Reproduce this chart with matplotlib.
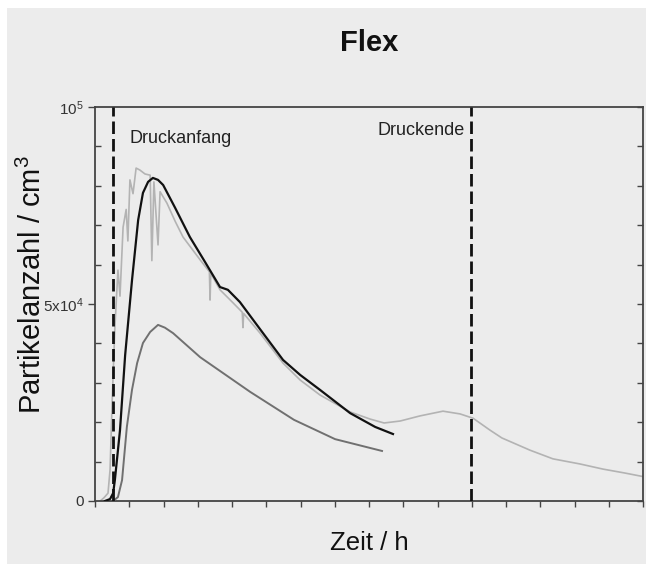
import matplotlib
matplotlib.use("Agg")
import matplotlib.pyplot as plt
from matplotlib.patches import Rectangle
from matplotlib.ticker import MultipleLocator, FixedLocator

plt.rcParams['font.family'] = ['Liberation Sans', 'DejaVu Sans']
plt.rcParams['mathtext.fontset'] = 'custom'
plt.rcParams['mathtext.rm'] = 'Liberation Sans'

title = "Flex"
xlabel = "Zeit / h"
ylabel = r"Partikelanzahl / cm$^{3}$"
ytick_vals = [0, 50000, 100000]
ytick_labels = ["0", r"$\mathregular{5x10^{4}}$", r"$\mathregular{10^{5}}$"]
start_label = "Druckanfang"
end_label = "Druckende"
t_start = 0.53
t_end = 10.98

# light gray series
light_x = [0.15, 0.26, 0.38, 0.44, 0.50, 0.58, 0.67, 0.73, 0.82, 0.91, 0.96, 1.02, 1.11,
           1.20, 1.31, 1.46, 1.61, 1.66, 1.72, 1.84, 1.90, 2.10, 2.34, 2.57, 3.07, 3.34,
           3.36, 3.38, 3.65, 4.03, 4.30, 4.32, 4.34, 4.82, 5.49, 5.99, 6.57, 7.45, 8.03,
           8.44, 8.91, 9.49, 10.16, 10.66, 11.04, 11.53, 11.88, 12.70, 13.37, 14.16,
           14.83, 15.47, 16.0]
light_y = [0, 800, 2000, 8000, 25000, 44000, 58600, 52000, 69500, 74000, 66000, 81500, 78000,
           84500, 84000, 83000, 82700, 61000, 81000, 65000, 78500, 75600, 71000, 67000, 61200,
           58200, 51000, 57800, 53600, 50300, 47900, 44000, 47600, 42600, 35000, 30700, 26900,
           22600, 20800, 19800, 20300, 21600, 22800, 22100, 21000, 18000, 16000, 12900, 10700,
           9400, 8100, 7100, 6200]

# black series
black_x = [0.29, 0.44, 0.53, 0.58, 0.73, 0.88, 1.08, 1.26, 1.40, 1.55, 1.69, 1.84, 1.99,
           2.34, 2.77, 3.21, 3.65, 3.88, 4.23, 4.82, 5.49, 5.99, 6.57, 7.45, 8.18, 8.70]
black_y = [0, 500, 2000, 5300, 18000, 37000, 56000, 71300, 78200, 81000, 82000, 81500, 80200,
           74400, 67000, 60700, 54300, 53600, 50500, 43600, 35800, 32000, 28200, 22300,
           18800, 17000]

# dark gray series
dark_x = [0.53, 0.67, 0.79, 0.93, 1.08, 1.23, 1.40, 1.61, 1.84, 2.04, 2.28, 3.07, 4.53,
          5.81, 7.01, 8.38]
dark_y = [0, 1000, 5300, 18800, 28200, 35000, 40100, 42900, 44700, 44000, 42600, 36500,
          27700, 20600, 15700, 12700]

fig = plt.figure(figsize=(6.46, 5.66), dpi=100)
fig.patch.set_facecolor('white')
fig.patches.append(Rectangle((7 / 646, 2 / 566), 639 / 646, 556 / 566,
                             transform=fig.transFigure, facecolor='#ececec',
                             edgecolor='none', zorder=-10))

ax = fig.add_axes([95 / 646, 65 / 566, 548 / 646, 394 / 566])
ax.set_facecolor('none')
ax.set_zorder(2)

ax.plot(light_x, light_y, color='#b3b3b3', lw=1.2, zorder=2)
ax.plot(dark_x, dark_y, color='#707070', lw=1.4, zorder=3)
ax.plot(black_x, black_y, color='#111111', lw=1.6, zorder=4)

for t in (t_start, t_end):
    ax.axvline(t, color='#111111', lw=2.0, ls=(0, (4.5, 1.8)), zorder=5)

ax.set_xlim(0, 16)
ax.set_ylim(0, 100000)

for s in ax.spines.values():
    s.set_color('#444444')
    s.set_linewidth(1.3)

ax.xaxis.set_major_locator(MultipleLocator(1))
ax.xaxis.set_ticklabels([])
ax.tick_params(axis='x', which='major', direction='out', length=4, width=1,
               color='#444444', bottom=True, top=False, labelbottom=False)

ax.yaxis.set_major_locator(FixedLocator(ytick_vals))
ax.set_yticklabels(ytick_labels)
ax.yaxis.set_minor_locator(MultipleLocator(10000))
ax.tick_params(axis='y', which='major', direction='out', length=5, width=1,
               color='#444444', labelsize=11, labelcolor='#333333', pad=3)
ax.tick_params(axis='y', which='minor', direction='in', length=4, width=1,
               color='#444444', left=True, right=False)

ax2 = ax.twinx()
ax2.set_ylim(0, 100000)
ax2.yaxis.set_major_locator(MultipleLocator(10000))
ax2.tick_params(axis='y', direction='in', length=4, width=1, color='#444444',
                labelright=False, right=True)
for s in ax2.spines.values():
    s.set_visible(False)

ax.text(1.0, 92000, start_label, fontsize=13, color='#222222', va='center', ha='left')
ax.text(10.8, 94000, end_label, fontsize=13, color='#222222', va='center', ha='right')

fig.text(369 / 646, 1 - 43 / 566, title, fontsize=21, fontweight='bold',
         ha='center', va='center', color='#111111')
fig.text(369 / 646, 1 - 543 / 566, xlabel, fontsize=18.5, ha='center', va='center',
         color='#111111')
fig.text(32 / 646, 1 - 285 / 566, ylabel, fontsize=21, ha='center', va='center',
         rotation=90, color='#111111')

fig.savefig('out.png', dpi=100, facecolor=fig.get_facecolor())
